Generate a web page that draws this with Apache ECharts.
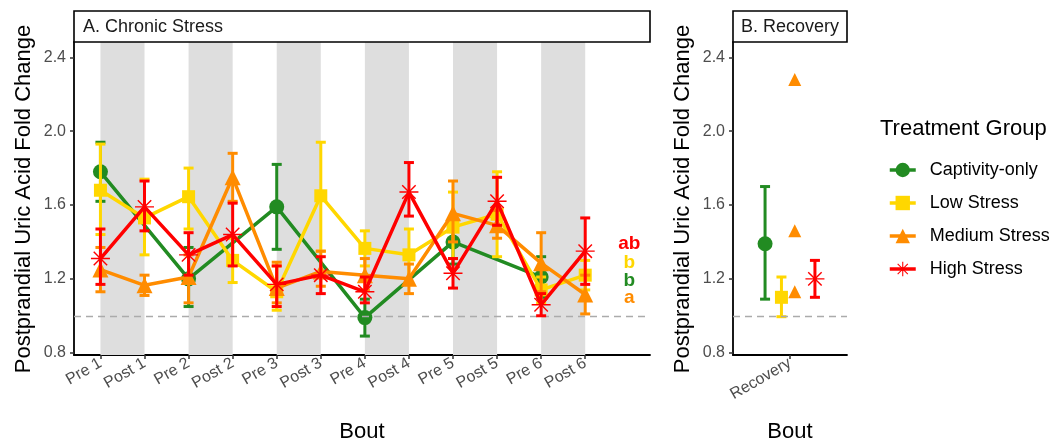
<!DOCTYPE html>
<html>
<head>
<meta charset="utf-8">
<script src="https://cdn.jsdelivr.net/npm/echarts@6/dist/echarts.min.js"></script>
<style>
  html, body { margin: 0; padding: 0; background: #ffffff; }
  #chart { width: 1052px; height: 442px; }
</style>
</head>
<body>
<div id="chart"></div>
<script>
// ---- Data ----------------------------------------------------------------
const bouts = ['Pre 1', 'Post 1', 'Pre 2', 'Post 2', 'Pre 3', 'Post 3',
               'Pre 4', 'Post 4', 'Pre 5', 'Post 5', 'Pre 6', 'Post 6'];
const yTicks = [0.8, 1.2, 1.6, 2.0, 2.4];

// Captivity-only birds were sampled at the "Pre" bouts only
const captivityBouts = ['Pre 1', 'Pre 2', 'Pre 3', 'Pre 4', 'Pre 5', 'Pre 6'];
const captivityMean = [1.78, 1.20, 1.59, 0.99, 1.40, 1.21];
const captivityLow  = [1.62, 1.05, 1.36, 0.89, 1.28, 1.10];
const captivityHigh = [1.94, 1.37, 1.82, 1.09, 1.53, 1.32];

const lowMean = [1.68, 1.53, 1.645, 1.30, 1.13, 1.65, 1.365, 1.33, 1.48, 1.55, 1.14, 1.22];
const lowLow  = [1.44, 1.33, 1.47, 1.18, 1.03, 1.35, 1.27, 1.18, 1.31, 1.32, 1.07, 1.14];
const lowHigh = [1.93, 1.74, 1.80, 1.42, 1.27, 1.94, 1.46, 1.47, 1.67, 1.78, 1.21, 1.30];

const mediumMean = [1.25, 1.165, 1.21, 1.75, 1.15, 1.24, 1.22, 1.20, 1.555, 1.49, 1.285, 1.115];
const mediumLow  = [1.13, 1.11, 1.07, 1.62, 1.07, 1.16, 1.14, 1.12, 1.40, 1.42, 1.13, 1.01];
const mediumHigh = [1.37, 1.22, 1.33, 1.88, 1.29, 1.35, 1.31, 1.28, 1.73, 1.57, 1.45, 1.22];

const highMean = [1.31, 1.59, 1.33, 1.44, 1.17, 1.22, 1.13, 1.67, 1.23, 1.62, 1.06, 1.35];
const highLow  = [1.17, 1.46, 1.22, 1.27, 1.05, 1.12, 1.07, 1.54, 1.15, 1.49, 1.00, 1.17];
const highHigh = [1.47, 1.73, 1.45, 1.61, 1.27, 1.32, 1.21, 1.83, 1.31, 1.75, 1.12, 1.53];

// Recovery bout
const recoveryCategory = ['Recovery'];
const recCaptivity = { mean: 1.39, low: 1.09, high: 1.70 };
const recLow       = { mean: 1.10, low: 0.995, high: 1.21 };
const recMediumPoints = [2.28, 1.46, 1.13];
const recHigh      = { mean: 1.20, low: 1.10, high: 1.30 };

// Post-hoc group letters (High, Low, Captivity-only, Medium)
const groupLetters = ['ab', 'b', 'b', 'a'];
const letterY      = [1.39, 1.285, 1.19, 1.10];

const groupNames = ['Captivity-only', 'Low Stress', 'Medium Stress', 'High Stress'];

// ---- Styling ---------------------------------------------------------------
const FONT = 'Liberation Sans, Arial, Helvetica, sans-serif';
const colors = ['#228B22', '#FFD700', '#FF8C00', '#FF0000'];
const letterColors = ['#FF0000', '#FFD700', '#228B22', '#FF8C00'];

// asterisk glyph built from four thin bars
function asteriskPath(r, w) {
  let d = '';
  [0, 45, 90, 135].forEach(function (deg) {
    const a = deg * Math.PI / 180;
    const dx = Math.cos(a), dy = Math.sin(a), nx = -dy, ny = dx;
    const p = [
      [r * dx + w * nx, r * dy + w * ny],
      [r * dx - w * nx, r * dy - w * ny],
      [-r * dx - w * nx, -r * dy - w * ny],
      [-r * dx + w * nx, -r * dy + w * ny]
    ];
    d += 'M' + p.map(q => q[0].toFixed(3) + ',' + q[1].toFixed(3)).join('L') + 'Z';
  });
  return 'path://' + d;
}
const symbols = ['circle', 'rect', 'triangle', asteriskPath(10, 0.75)];
const symbolSizes = [15, 13, 16, 19];
const recoveryOffsets = [-0.2625, -0.09, 0.05, 0.2625];

// ---- Build series ------------------------------------------------------------
const idx = name => bouts.indexOf(name);

function errorBarSeries(color, data, xAxisIndex, z) {
  return {
    type: 'custom',
    xAxisIndex: xAxisIndex, yAxisIndex: xAxisIndex,
    z: z, silent: true,
    encode: { x: 0, y: [1, 2] },
    data: data,
    renderItem: function (params, api) {
      const lo = api.coord([api.value(0), api.value(1)]);
      const hi = api.coord([api.value(0), api.value(2)]);
      const hw = 5;
      const st = { stroke: color, lineWidth: 3 };
      return {
        type: 'group',
        children: [
          { type: 'line', shape: { x1: lo[0], y1: lo[1], x2: hi[0], y2: hi[1] }, style: st },
          { type: 'line', shape: { x1: lo[0] - hw, y1: lo[1], x2: lo[0] + hw, y2: lo[1] }, style: st },
          { type: 'line', shape: { x1: hi[0] - hw, y1: hi[1], x2: hi[0] + hw, y2: hi[1] }, style: st }
        ]
      };
    }
  };
}

const chronicGroups = [
  { x: captivityBouts.map(idx), mean: captivityMean, low: captivityLow, high: captivityHigh },
  { x: bouts.map(idx), mean: lowMean, low: lowLow, high: lowHigh },
  { x: bouts.map(idx), mean: mediumMean, low: mediumLow, high: mediumHigh },
  { x: bouts.map(idx), mean: highMean, low: highLow, high: highHigh }
];

const lineSeries = [];
const barSeries = [];
chronicGroups.forEach(function (g, i) {
  lineSeries.push({
    name: groupNames[i],
    type: 'line',
    xAxisIndex: 0, yAxisIndex: 0,
    z: 3 + i * 2,
    data: g.x.map((x, k) => [x, g.mean[k]]),
    symbol: symbols[i],
    symbolSize: symbolSizes[i],
    showSymbol: true,
    color: colors[i],
    itemStyle: { color: colors[i], opacity: 1 },
    lineStyle: { color: colors[i], width: 3.5 },
    silent: true
  });
  barSeries.push(errorBarSeries(colors[i],
    g.x.map((x, k) => [x, g.low[k], g.high[k]]), 0, 2 + i * 2));
});

// Recovery panel
const recSummaries = [recCaptivity, recLow, null, recHigh];
const recoverySeries = [];
recSummaries.forEach(function (s, i) {
  const x0 = 0 + recoveryOffsets[i];
  if (s) {
    recoverySeries.push(errorBarSeries(colors[i], [[x0, s.low, s.high]], 1, 2 + i * 2));
    recoverySeries.push({
      type: 'scatter', xAxisIndex: 1, yAxisIndex: 1, z: 3 + i * 2, silent: true,
      symbol: symbols[i], symbolSize: symbolSizes[i],
      itemStyle: { color: colors[i], opacity: 1 },
      data: [[x0, s.mean]]
    });
  } else {
    recoverySeries.push({
      type: 'scatter', xAxisIndex: 1, yAxisIndex: 1, z: 3 + i * 2, silent: true,
      symbol: symbols[i], symbolSize: symbolSizes[i] - 3,
      itemStyle: { color: colors[i], opacity: 1 },
      data: recMediumPoints.map(v => [x0, v])
    });
  }
});

// shaded Pre/Post pairs and reference line at 1.0
const bands = [];
for (let k = 0; k < bouts.length; k += 2) bands.push([k, k + 1]);

const refLine = {
  silent: true, symbol: 'none', label: { show: false },
  lineStyle: { color: '#ABABAB', type: [7, 5], width: 1.4 },
  data: [{ yAxis: 1 }]
};

const backgroundSeries = [
  {
    type: 'line', xAxisIndex: 0, yAxisIndex: 0, z: 1, data: [], silent: true,
    markArea: {
      silent: true,
      itemStyle: { color: '#DEDEDE', opacity: 1 },
      data: bands.map(b => [{ xAxis: b[0] }, { xAxis: b[1] }])
    },
    markLine: refLine
  },
  {
    type: 'line', xAxisIndex: 1, yAxisIndex: 1, z: 1, data: [], silent: true,
    markLine: refLine
  }
];

const letterSeries = {
  type: 'scatter', xAxisIndex: 0, yAxisIndex: 0, z: 20, silent: true,
  symbolSize: 1,
  itemStyle: { color: 'rgba(0,0,0,0)', opacity: 1 },
  data: groupLetters.map((t, i) => ({
    value: [bouts.length, letterY[i]],
    label: { color: letterColors[i] }
  })),
  label: {
    show: true, position: 'inside', opacity: 1,
    fontFamily: FONT, fontSize: 19, fontWeight: 'bold',
    formatter: p => groupLetters[p.dataIndex]
  }
};

// ---- Axes ----------------------------------------------------------------------
const yMin = 0.7875, yMax = 2.483;
function yAxisCfg(gridIndex) {
  return {
    type: 'value', gridIndex: gridIndex, min: yMin, max: yMax,
    splitLine: { show: false },
    axisLine: { show: true, onZero: false, lineStyle: { color: '#000000', width: 1.8 } },
    axisTick: { show: true, length: 4, lineStyle: { color: '#333333', width: 1.5 }, customValues: yTicks },
    axisLabel: {
      customValues: yTicks, margin: 8,
      color: '#4D4D4D', fontFamily: FONT, fontSize: 16,
      formatter: v => Number(v).toFixed(1)
    }
  };
}
function xAxisCfg(gridIndex, min, max, labels) {
  const vals = labels.map((_, i) => i);
  return {
    type: 'value', gridIndex: gridIndex, min: min, max: max,
    splitLine: { show: false },
    axisLine: { show: true, onZero: false, lineStyle: { color: '#000000', width: 1.8 } },
    axisTick: { show: true, length: 4, lineStyle: { color: '#333333', width: 1.5 }, customValues: vals },
    axisLabel: {
      customValues: vals, rotate: 30, margin: 7,
      color: '#4D4D4D', fontFamily: FONT, fontSize: 16,
      formatter: v => labels[Math.round(v)]
    }
  };
}

// ---- Titles, strips -------------------------------------------------------------
const titleStyle = { fontFamily: FONT, fontSize: 22, fill: '#000000' };
const graphics = [
  { type: 'rect', shape: { x: 74, y: 11, width: 576, height: 31 },
    style: { fill: '#ffffff', stroke: '#000000', lineWidth: 1.6 }, z: 10 },
  { type: 'text', x: 83, y: 27, z: 11,
    style: { text: 'A. Chronic Stress', fontFamily: FONT, fontSize: 18, fill: '#1A1A1A', verticalAlign: 'middle' } },
  { type: 'rect', shape: { x: 733, y: 11, width: 114, height: 31 },
    style: { fill: '#ffffff', stroke: '#000000', lineWidth: 1.6 }, z: 10 },
  { type: 'text', x: 741, y: 27, z: 11,
    style: { text: 'B. Recovery', fontFamily: FONT, fontSize: 18, fill: '#1A1A1A', verticalAlign: 'middle' } },
  { type: 'text', x: 24, y: 199, rotation: Math.PI / 2,
    style: Object.assign({ text: 'Postprandial Uric Acid Fold Change', align: 'center', verticalAlign: 'middle' }, titleStyle) },
  { type: 'text', x: 683, y: 199, rotation: Math.PI / 2,
    style: Object.assign({ text: 'Postprandial Uric Acid Fold Change', align: 'center', verticalAlign: 'middle' }, titleStyle) },
  { type: 'text', x: 362, y: 432,
    style: Object.assign({ text: 'Bout', align: 'center', verticalAlign: 'middle' }, titleStyle) },
  { type: 'text', x: 790, y: 432,
    style: Object.assign({ text: 'Bout', align: 'center', verticalAlign: 'middle' }, titleStyle) },
  { type: 'text', x: 880, y: 129,
    style: Object.assign({ text: 'Treatment Group', align: 'left', verticalAlign: 'middle' }, titleStyle) }
];

const chart = echarts.init(document.getElementById('chart'), null, { renderer: 'canvas' });
chart.setOption({
  animation: false,
  backgroundColor: '#ffffff',
  grid: [
    { left: 74, top: 42, width: 576, height: 313 },
    { left: 733, top: 42, width: 114, height: 313 }
  ],
  xAxis: [
    xAxisCfg(0, -0.6, 12.47, bouts),
    xAxisCfg(1, -0.6, 0.6, recoveryCategory)
  ],
  yAxis: [yAxisCfg(0), yAxisCfg(1)],
  legend: {
    data: groupNames,
    orient: 'vertical',
    left: 883, top: 156,
    itemWidth: 26, itemHeight: 18, itemGap: 15,
    lineStyle: { width: 3.5 },
    textStyle: { fontFamily: FONT, fontSize: 18, color: '#000000', lineHeight: 18, padding: [0, 0, 0, 9] },
    selectedMode: false
  },
  graphic: graphics,
  series: lineSeries.concat(barSeries, recoverySeries, backgroundSeries, [letterSeries])
});
</script>
</body>
</html>
